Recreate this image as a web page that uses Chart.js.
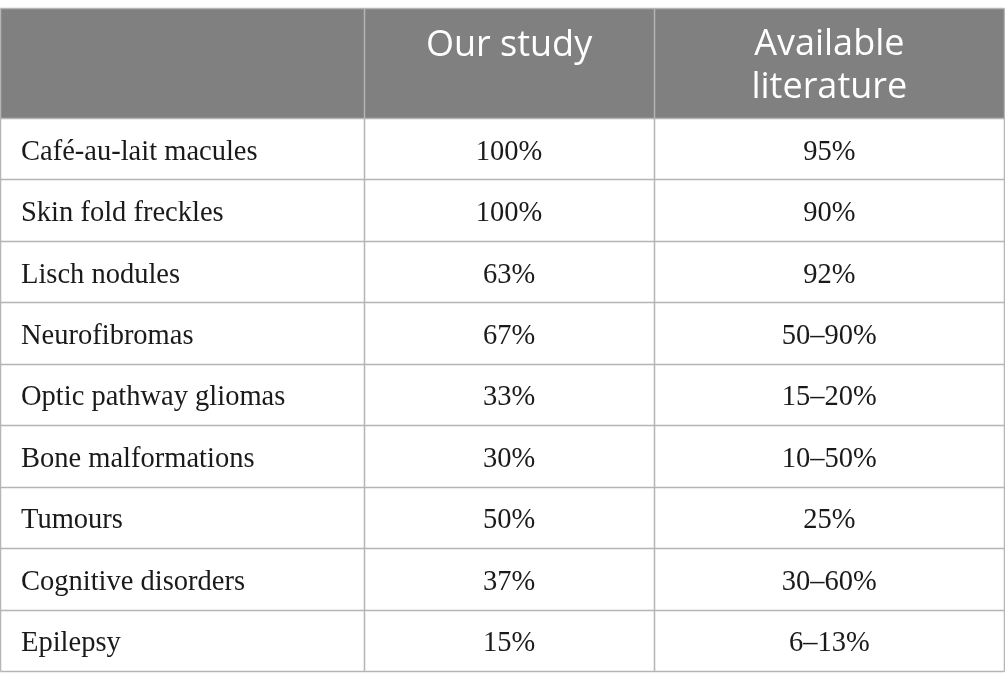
<!DOCTYPE html>
<html>
<head>
<meta charset="utf-8">
<script src="https://cdn.jsdelivr.net/npm/chart.js@4"></script>
<style>
html,body{margin:0;padding:0;background:#fff;}
#wrap{width:1005px;height:689px;position:relative;}
</style>
</head>
<body>
<div id="wrap"><canvas id="c"></canvas></div>
<script>
// ---- data ----
const columnHeaders = [[""], ["Our study"], ["Available", "literature"]];
const features = [
  "Café-au-lait macules",
  "Skin fold freckles",
  "Lisch nodules",
  "Neurofibromas",
  "Optic pathway gliomas",
  "Bone malformations",
  "Tumours",
  "Cognitive disorders",
  "Epilepsy"
];
const ourStudy = ["100%", "100%", "63%", "67%", "33%", "30%", "50%", "37%", "15%"];
const literature = ["95%", "90%", "92%", "50–90%", "15–20%", "10–50%", "25%", "30–60%", "6–13%"];

// ---- layout (not data) ----
const colEdges = [0, 0.3626, 0.6504, 1];      // fractions of table width
const headerRows = 1.79;                      // header height in row units
const nRows = features.length;

function colCenter(i){ return (colEdges[i] + colEdges[i+1]) / 2; }

const cellData = [features, ourStudy, literature];
const datasets = cellData.map((col, ci) => ({
  label: ci === 0 ? "Feature" : columnHeaders[ci].join(" "),
  data: col.map((t, ri) => ({ x: ci === 0 ? colEdges[0] : colCenter(ci), y: ri + 0.5, text: t })),
  pointRadius: 0,
  pointHoverRadius: 0,
  showLine: false
}));

const tablePlugin = {
  id: 'tablePlugin',
  beforeDatasetsDraw(chart){
    const {ctx, scales:{x, y}} = chart;
    const L = Math.round(x.getPixelForValue(0)) + 0.5;
    const R = Math.round(x.getPixelForValue(1)) - 0.5;
    const T = Math.round(y.getPixelForValue(-headerRows)) + 0.5;
    const B = Math.round(y.getPixelForValue(nRows)) + 0.5;
    const H = Math.round(y.getPixelForValue(0)) + 0.5;
    ctx.save();
    ctx.fillStyle = '#7f807f';
    ctx.fillRect(L, T, R - L, H - T);
    ctx.strokeStyle = '#b5b5b5';
    ctx.lineWidth = 1.5;
    for (let r = 0; r <= nRows; r++){
      const py = Math.round(y.getPixelForValue(r)) + 0.5;
      ctx.beginPath(); ctx.moveTo(L, py); ctx.lineTo(R, py); ctx.stroke();
    }
    ctx.beginPath(); ctx.moveTo(L, T); ctx.lineTo(R, T); ctx.stroke();
    colEdges.forEach(e => {
      let px = Math.round(x.getPixelForValue(e)) + 0.5;
      if (e === 1) px = R;
      if (e === 0) px = L;
      ctx.beginPath(); ctx.moveTo(px, T); ctx.lineTo(px, B); ctx.stroke();
    });
    // header text
    ctx.fillStyle = '#ffffff';
    ctx.font = '400 36px "Open Sans"';
    ctx.textAlign = 'center';
    ctx.textBaseline = 'alphabetic';
    const top = y.getPixelForValue(-headerRows);
    columnHeaders.forEach((lines, ci) => {
      const cx = x.getPixelForValue(colCenter(ci));
      lines.forEach((ln, li) => {
        const base = lines.length === 1 ? top + 48 : top + 47 + li * 43;
        ctx.fillText(ln, cx, base);
      });
    });
    ctx.restore();
  },
  afterDatasetsDraw(chart){
    const {ctx} = chart;
    ctx.save();
    ctx.fillStyle = '#1a1a1a';
    ctx.font = '28.5px "Liberation Serif"';
    ctx.textBaseline = 'alphabetic';
    chart.data.datasets.forEach((ds, di) => {
      const meta = chart.getDatasetMeta(di);
      meta.data.forEach((pt, i) => {
        ctx.textAlign = di === 0 ? 'left' : 'center';
        const px = di === 0 ? pt.x + 21 : pt.x;
        ctx.fillText(ds.data[i].text, px, pt.y + 11);
      });
    });
    ctx.restore();
  }
};

new Chart(document.getElementById('c'), {
  type: 'scatter',
  data: { datasets },
  options: {
    responsive: true,
    maintainAspectRatio: false,
    animation: false,
    events: [],
    layout: { padding: { left: 0, right: 0, top: 8, bottom: 18 } },
    plugins: { legend: { display: false }, tooltip: { enabled: false } },
    scales: {
      x: { type: 'linear', min: 0, max: 1, display: false },
      y: { type: 'linear', min: -headerRows, max: nRows, reverse: true, display: false }
    }
  },
  plugins: [tablePlugin]
});
</script>
</body>
</html>
